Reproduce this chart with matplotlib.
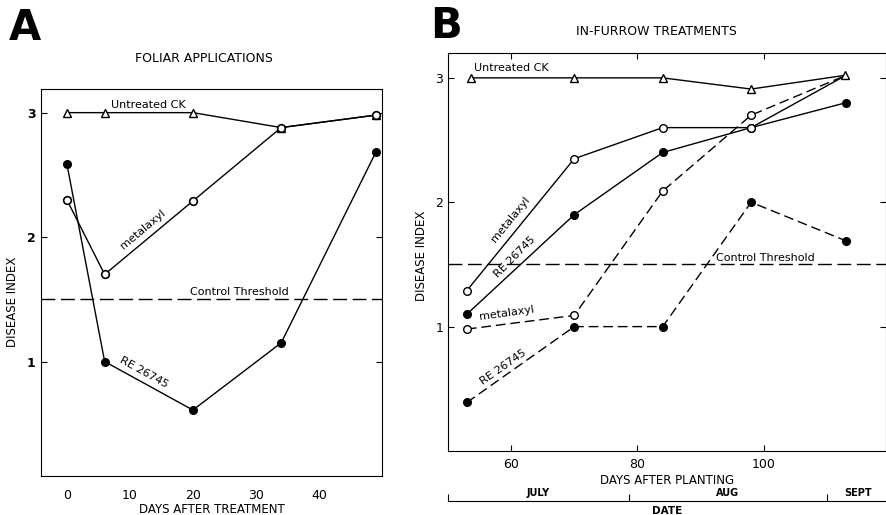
import matplotlib as mpl
import matplotlib.pyplot as plt

mpl.rcParams['font.family'] = ['DejaVu Sans']
mpl.rcParams['font.size'] = 8

# Panel A: foliar applications
days_a = [0, 6, 20, 34, 49]
ck_a = [3.0, 3.0, 3.0, 2.88, 2.98]
metalaxyl_a = [2.30, 1.70, 2.29, 2.88, 2.98]
re_a = [2.59, 1.00, 0.61, 1.15, 2.68]

# Panel B: in-furrow treatments
days_b = [53, 70, 84, 98, 113]
days_ck_b = [53.6, 70, 84, 98, 112.8]
ck_b = [3.0, 3.0, 3.0, 2.91, 3.02]
metalaxyl_b = [1.29, 2.35, 2.60, 2.60, 3.02]
re_b = [1.10, 1.90, 2.40, 2.60, 2.80]
metalaxyl_b_dash = [0.98, 1.09, 2.09, 2.70, 3.02]
re_b_dash = [0.39, 1.00, 1.00, 2.00, 1.69]

threshold = 1.5
month_edges = [50, 78.6, 110]
month_mid = [64.3, 94.3, 115]
month_names = ['JULY', 'AUG', 'SEPT']

fig = plt.figure(figsize=(8.87, 5.15), dpi=100)
axA = fig.add_axes([0.0462, 0.0757, 0.3845, 0.7515])
axB = fig.add_axes([0.505, 0.1243, 0.4935, 0.7728])

lw = 1.0
ms = 5.5
dash = (0, (7, 3.5))

# ---- A ----
axA.axhline(threshold, color='black', lw=lw, linestyle=(0, (10, 4)))
axA.plot(days_a, ck_a, color='black', lw=lw, marker='^', ms=ms, mfc='white', mec='black')
axA.plot(days_a, metalaxyl_a, color='black', lw=lw, marker='o', ms=ms, mfc='white', mec='black', mew=1.2)
axA.plot(days_a, re_a, color='black', lw=lw, marker='o', ms=ms, mfc='black', mec='black')

axA.text(13, 3.06, 'Untreated CK', ha='center', va='center', fontsize=8)
axA.text(12.1, 2.06, 'metalaxyl', ha='center', va='center', rotation=40, fontsize=8)
axA.text(12.3, 0.91, 'RE 26745', ha='center', va='center', rotation=-29, fontsize=8)
axA.text(27.3, 1.555, 'Control Threshold', ha='center', va='center', fontsize=8)

axA.set_xlim(-4.1, 50)
axA.set_ylim(0.08, 3.19)
axA.set_xticks([0, 10, 20, 30, 40])
axA.set_yticks([1, 2, 3])
axA.set_yticklabels(['1', '2', '3'], fontweight='bold')
axA.tick_params(axis='x', length=0, pad=9, labelsize=9)
axA.tick_params(axis='y', direction='in', length=4, right=True, labelsize=9, pad=4)
axA.set_ylabel('DISEASE INDEX', fontsize=8.5, labelpad=6)
axA.yaxis.set_label_coords(-0.065, 0.45)
axA.set_xlabel('DAYS AFTER TREATMENT', fontsize=8.5, labelpad=1)

# ---- B ----
axB.axhline(threshold, color='black', lw=lw, linestyle=(0, (10, 4)))
axB.plot(days_ck_b, ck_b, color='black', lw=lw, marker='^', ms=ms + 0.5, mfc='white', mec='black', zorder=5)
axB.plot(days_b, re_b, color='black', lw=lw, marker='o', ms=ms, mfc='black', mec='black', markevery=[0, 1, 2, 3, 4])
axB.plot(days_b, metalaxyl_b, color='black', lw=lw, marker='o', ms=ms, mfc='white', mec='black', markevery=[0, 1, 2, 3])
axB.plot(days_b, metalaxyl_b_dash, color='black', lw=lw, linestyle=dash, marker='o', ms=ms, mfc='white', mec='black', markevery=[0, 1, 2, 3])
axB.plot(days_b, re_b_dash, color='black', lw=lw, linestyle=dash, marker='o', ms=ms, mfc='black', mec='black')

axB.text(60.1, 3.08, 'Untreated CK', ha='center', va='center', fontsize=8)
axB.text(59.9, 1.86, 'metalaxyl', ha='center', va='center', rotation=51, fontsize=8)
axB.text(60.6, 1.56, 'RE 26745', ha='center', va='center', rotation=45, fontsize=8)
axB.text(59.3, 1.11, 'metalaxyl', ha='center', va='center', rotation=8, fontsize=8)
axB.text(58.8, 0.67, 'RE 26745', ha='center', va='center', rotation=35, fontsize=8)
axB.text(100.3, 1.555, 'Control Threshold', ha='center', va='center', fontsize=8)

axB.set_xlim(50, 119.3)
axB.set_ylim(0, 3.2)
axB.set_xticks([60, 80, 100])
axB.set_yticks([1, 2, 3])
axB.tick_params(axis='both', direction='in', length=4, top=True, right=True, labelsize=9)
axB.tick_params(axis='x', pad=5)
axB.set_ylabel('DISEASE INDEX', fontsize=8.5, labelpad=4)
axB.yaxis.set_label_coords(-0.045, 0.49)
axB.set_xlabel('DAYS AFTER PLANTING', fontsize=8.5, labelpad=2)

# date axis below panel B
sec = axB.secondary_xaxis(-0.125)
sec.set_xticks(month_edges)
sec.set_xticklabels(['', '', ''])
sec.set_xticks(month_mid, labels=month_names, minor=True)
sec.tick_params(axis='x', which='major', direction='in', length=5)
sec.tick_params(axis='x', which='minor', length=0, pad=-9, labelsize=7)
for lab in sec.get_xticklabels(minor=True):
    lab.set_fontweight('bold')
sec.set_xlabel('DATE', fontsize=7.5, fontweight='bold', labelpad=0)

# titles and panel letters
fig.text(0.23, 0.887, 'FOLIAR APPLICATIONS', ha='center', va='center', fontsize=9)
fig.text(0.74, 0.938, 'IN-FURROW TREATMENTS', ha='center', va='center', fontsize=9)
fig.text(0.028, 0.945, 'A', ha='center', va='center', fontsize=30, fontweight='bold')
fig.text(0.503, 0.95, 'B', ha='center', va='center', fontsize=30, fontweight='bold')

fig.savefig('out.png', dpi=100)
